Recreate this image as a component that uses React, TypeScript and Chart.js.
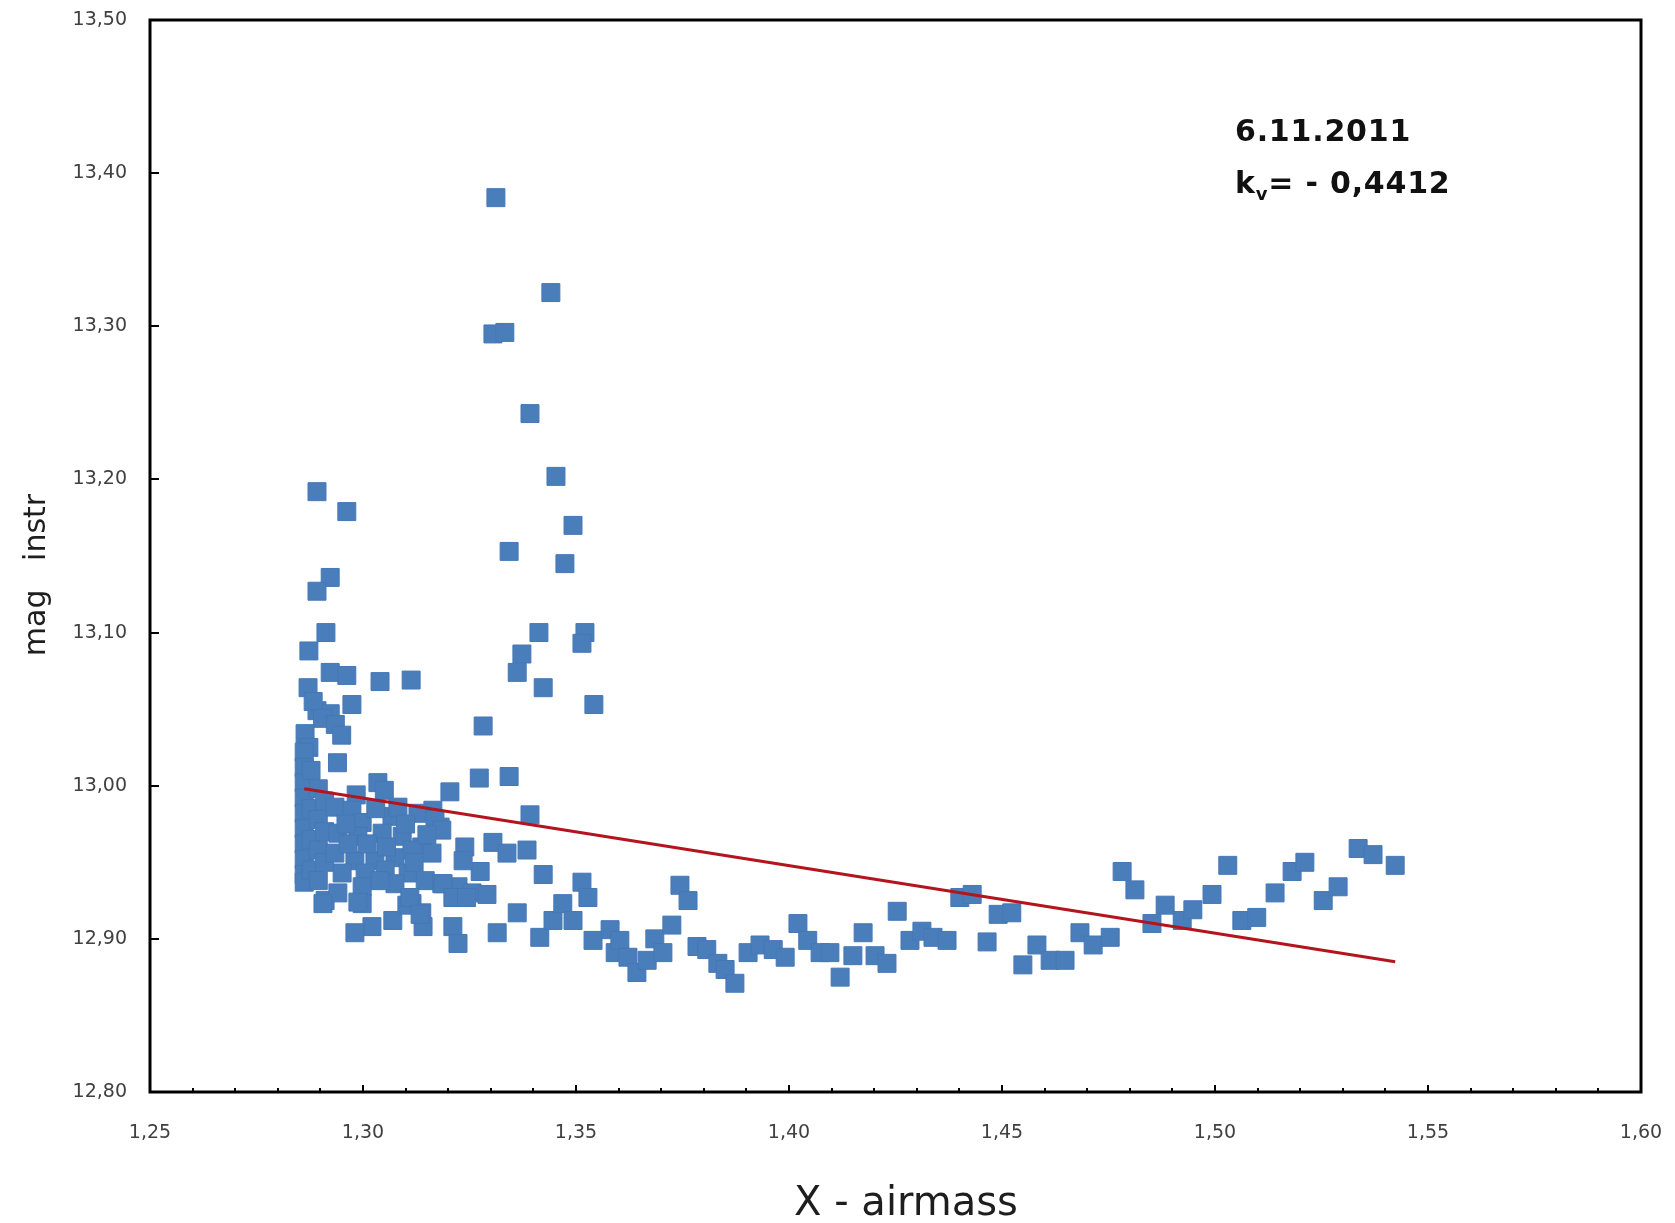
import React, { useEffect, useRef } from "react";
import { Chart, registerables } from "chart.js";

Chart.register(...registerables);

// Airmass (X) and instrumental magnitude values
const airmass: number[] = [
  1.3312, 1.3441, 1.3305, 1.3333, 1.3392, 1.3453, 1.3493, 1.3343, 1.3474,
  1.2892, 1.2962, 1.2923, 1.2892, 1.2913, 1.2873, 1.3413, 1.3373, 1.3362,
  1.3423, 1.3521, 1.3514, 1.3542, 1.3040, 1.3113, 1.2923, 1.2962, 1.2871,
  1.2974, 1.3282, 1.2892, 1.2923, 1.2864, 1.2883, 1.2905, 1.2935, 1.2950,
  1.2940, 1.2873,
  1.3273, 1.3343, 1.3204, 1.2984, 1.3035, 1.3050, 1.3392, 1.3164, 1.3181,
  1.2862, 1.2862, 1.2862, 1.2862, 1.2862, 1.2862, 1.2862, 1.2862, 1.2862, 1.2862,
  1.2878, 1.2878, 1.2878, 1.2878,
  1.2895, 1.2895, 1.2895, 1.2895,
  1.2910, 1.2910, 1.2910,
  1.2934, 1.2974, 1.2998, 1.3068, 1.3082, 1.3129, 1.3169, 1.3185, 1.2941,
  1.2988, 1.3045, 1.3092, 1.3138, 1.3162, 1.2934, 1.2981, 1.3028, 1.3075,
  1.3115, 1.2951, 1.3005, 1.3052, 1.3106, 1.3146, 1.3185, 1.3223, 1.3256,
  1.2998, 1.3075, 1.2911, 1.2941, 1.2998, 1.3115, 1.3138, 1.3070, 1.3021,
  1.2981, 1.3141, 1.3211, 1.3223, 1.3103, 1.3110, 1.2906, 1.2988, 1.3134,
  1.2960, 1.3010, 1.3055, 1.3100, 1.3150, 1.3030, 1.3120, 1.2965, 1.3040,
  1.3239, 1.3305, 1.3338, 1.3385, 1.3423, 1.3514, 1.3528, 1.3275, 1.3235,
  1.3188, 1.3211, 1.3243, 1.3291, 1.3362, 1.3315, 1.3415, 1.3446, 1.3469,
  1.3493, 1.3540, 1.3580, 1.3592,
  1.3603, 1.3622, 1.3643, 1.3667, 1.3685, 1.3704, 1.3725, 1.3744, 1.3763,
  1.3784, 1.3807, 1.3833, 1.3850, 1.3873, 1.3904, 1.3932, 1.3963, 1.3991,
  1.4021, 1.4044, 1.4073, 1.4096, 1.4120, 1.4150, 1.4174, 1.4202, 1.4230,
  1.4254, 1.4284, 1.4312, 1.4338, 1.4371, 1.4401, 1.4430, 1.4465, 1.4491,
  1.4523, 1.4549, 1.4582, 1.4613, 1.4648, 1.4683, 1.4714, 1.4754, 1.4782,
  1.4812, 1.4852, 1.4883, 1.4923, 1.4948, 1.4993, 1.5030, 1.5063, 1.5098,
  1.5141, 1.5181, 1.5211, 1.5254, 1.5289, 1.5336, 1.5371, 1.5423,
];

const magInstr: number[] = [
  13.384, 13.322, 13.295, 13.296, 13.243, 13.202, 13.170, 13.153, 13.145,
  13.192, 13.179, 13.136, 13.127, 13.100, 13.088, 13.100, 13.086, 13.074,
  13.064, 13.100, 13.093, 13.053, 13.068, 13.069, 13.074, 13.072, 13.064,
  13.053, 13.039, 13.049, 13.047, 13.034, 13.055, 13.044, 13.040, 13.033,
  13.015, 13.025,
  13.005, 13.006, 12.996, 12.994, 13.002, 12.997, 12.981, 12.984, 12.973,
  13.022, 13.012, 13.002, 12.992, 12.982, 12.972, 12.962, 12.952, 12.942, 12.937,
  13.010, 12.985, 12.965, 12.945,
  12.998, 12.978, 12.958, 12.938,
  12.990, 12.970, 12.950,
  12.986, 12.984, 12.976, 12.980, 12.986, 12.982, 12.978, 12.971, 12.969,
  12.967, 12.969, 12.967, 12.960, 12.956, 12.956, 12.951, 12.951, 12.953,
  12.958, 12.943, 12.943, 12.945, 12.943, 12.938, 12.936, 12.934, 12.930,
  12.934, 12.936, 12.925, 12.930, 12.923, 12.923, 12.917, 12.912, 12.908,
  12.904, 12.908, 12.908, 12.897, 12.922, 12.927, 12.923, 12.924, 12.916,
  12.975, 12.962, 12.960, 12.975, 12.968, 12.985, 12.950, 12.962, 12.938,
  12.960, 12.963, 12.956, 12.958, 12.942, 12.937, 12.927, 12.944, 12.951,
  12.936, 12.927, 12.927, 12.929, 12.917, 12.904, 12.901, 12.912, 12.923,
  12.912, 12.899, 12.906, 12.891,
  12.899, 12.888, 12.878, 12.886, 12.900, 12.891, 12.909, 12.935, 12.925,
  12.895, 12.893, 12.884, 12.880, 12.871, 12.891, 12.896, 12.893, 12.888,
  12.910, 12.899, 12.891, 12.891, 12.875, 12.889, 12.904, 12.889, 12.884,
  12.918, 12.899, 12.905, 12.901, 12.899, 12.927, 12.929, 12.898, 12.916,
  12.917, 12.883, 12.896, 12.886, 12.886, 12.904, 12.896, 12.901, 12.944,
  12.932, 12.910, 12.922, 12.912, 12.919, 12.929, 12.948, 12.912, 12.914,
  12.930, 12.944, 12.950, 12.925, 12.934, 12.959, 12.955, 12.948,
];

// Linear fit (extinction line) end points
const fitX: number[] = [1.2862, 1.5423];
const fitY: number[] = [12.998, 12.885];

const xTitle = "X - airmass";
const yTitle = "mag   instr";
const noteDate = "6.11.2011";
const noteK = "k";
const noteSub = "v";
const noteValue = "= - 0,4412";

const fmt = (v: number) => Number(v).toFixed(2).replace(".", ",");

const framePlugin = {
  id: "frame",
  afterDraw(chart: any) {
    const { ctx, chartArea } = chart;
    const xs = chart.scales.x;
    const ys = chart.scales.y;
    ctx.save();
    // ticks (inside)
    ctx.strokeStyle = "#000";
    ctx.lineWidth = 2;
    ctx.beginPath();
    for (let i = 0; i <= 35; i++) {
      const v = 1.25 + i * 0.01;
      const px = Math.round(xs.getPixelForValue(v));
      const len = i % 5 === 0 ? 7 : 4;
      ctx.moveTo(px, chartArea.bottom);
      ctx.lineTo(px, chartArea.bottom - len);
    }
    for (let i = 0; i <= 7; i++) {
      const v = 12.8 + i * 0.1;
      const py = Math.round(ys.getPixelForValue(v));
      ctx.moveTo(chartArea.left, py);
      ctx.lineTo(chartArea.left + 9, py);
    }
    ctx.stroke();
    // frame
    ctx.lineWidth = 3;
    ctx.strokeRect(chartArea.left, chartArea.top, chartArea.right - chartArea.left, chartArea.bottom - chartArea.top);

    // axis titles
    ctx.fillStyle = "#1e1e1e";
    ctx.font = '40px "DejaVu Sans"';
    ctx.textAlign = "center";
    ctx.textBaseline = "middle";
    ctx.fillText(xTitle, 906, 1205);
    ctx.save();
    ctx.translate(37, 575);
    ctx.rotate(-Math.PI / 2);
    ctx.font = '30px "DejaVu Sans"';
    ctx.fillText(yTitle, 0, 0);
    ctx.restore();

    // annotation
    ctx.fillStyle = "#111";
    ctx.textAlign = "left";
    ctx.textBaseline = "alphabetic";
    ctx.font = 'bold 30px "DejaVu Sans"';
    (ctx as any).letterSpacing = "0.8px";
    ctx.fillText(noteDate, 1235, 141);
    let x = 1235;
    ctx.fillText(noteK, x, 193);
    x += ctx.measureText(noteK).width;
    ctx.font = 'bold 18px "DejaVu Sans"';
    ctx.fillText(noteSub, x, 200);
    x += ctx.measureText(noteSub).width;
    ctx.font = 'bold 30px "DejaVu Sans"';
    ctx.fillText(noteValue, x, 193);
    ctx.restore();
  },
};

export default function App() {
  const ref = useRef<HTMLCanvasElement | null>(null);
  useEffect(() => {
    if (!ref.current) return;
    const points = airmass.map((x, i) => ({ x, y: magInstr[i] }));
    const fit = fitX.map((x, i) => ({ x, y: fitY[i] }));
    const tickFont = { family: '"DejaVu Sans"', size: 19 };
    const chart = new Chart(ref.current, {
      type: "scatter",
      data: {
        datasets: [
          {
            label: "fit",
            data: fit,
            showLine: true,
            borderColor: "#B3141D",
            borderWidth: 3,
            pointRadius: 0,
            order: 0,
          } as any,
          {
            label: "mag instr",
            data: points,
            pointStyle: "rect",
            pointRadius: 12.7,
            backgroundColor: "#4A7EBB",
            borderColor: "#4677B5",
            borderWidth: 1,
            order: 1,
          } as any,
        ],
      },
      options: {
        animation: false,
        responsive: true,
        maintainAspectRatio: false,
        layout: { padding: { left: 0, right: 34, top: 20, bottom: 0 } },
        plugins: { legend: { display: false }, tooltip: { enabled: false } },
        scales: {
          x: {
            type: "linear",
            min: 1.25,
            max: 1.6,
            grid: { display: false, drawTicks: false },
            border: { display: false },
            ticks: {
              stepSize: 0.05,
              autoSkip: false,
              maxRotation: 0,
              padding: 30,
              color: "#404040",
              font: tickFont,
              callback: (v: any) => fmt(v),
            },
            afterFit: (s: any) => {
              s.height = 131;
              s.paddingLeft = 0;
              s.paddingRight = 0;
            },
          },
          y: {
            type: "linear",
            min: 12.8,
            max: 13.5,
            grid: { display: false, drawTicks: false },
            border: { display: false },
            ticks: {
              stepSize: 0.1,
              autoSkip: false,
              padding: 23,
              color: "#404040",
              font: tickFont,
              callback: (v: any) => fmt(v),
            },
            afterFit: (s: any) => {
              s.width = 150;
              s.paddingTop = 0;
              s.paddingBottom = 0;
            },
          },
        },
      } as any,
      plugins: [framePlugin],
    });
    return () => chart.destroy();
  }, []);
  return (
    <div style={{ position: "fixed", left: 0, top: 0, width: 1675, height: 1223, background: "#fff" }}>
      <canvas ref={ref} />
    </div>
  );
}
